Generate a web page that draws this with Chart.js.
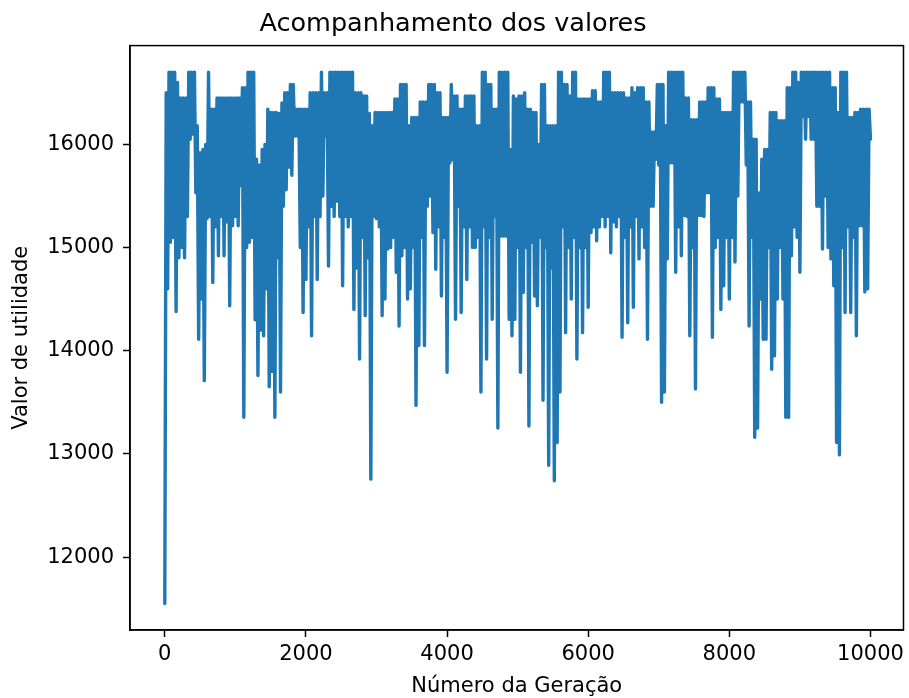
<!DOCTYPE html>
<html>
<head>
<meta charset="utf-8">
<script src="https://cdn.jsdelivr.net/npm/chart.js@4.4.1/dist/chart.umd.min.js"></script>
<style>
  html, body { margin: 0; padding: 0; background: #fff; }
  canvas { display: block; }
</style>
</head>
<body>
<canvas id="valoresChart" width="909" height="698"></canvas>
<script>
// one value every GEN_STEP generations (one row = 400 generations)
const GEN_STEP = 20;
const utilityValues = [
  11550, 16500, 14600, 16700, 15050, 16700, 15100, 16700, 14380, 16600, 14900, 16450, 15000, 16450, 14900, 16450, 15300, 16700, 16050, 16700,
  16100, 16700, 15530, 16180, 14110, 15920, 14500, 15950, 13710, 16000, 15280, 16700, 15300, 16340, 14660, 16340, 15200, 16450, 14920, 16450,
  15300, 16450, 14920, 16450, 15250, 16450, 14435, 16450, 15210, 16450, 15300, 16450, 15210, 16450, 15600, 16550, 13355, 16550, 15000, 16700,
  15050, 16700, 15100, 16700, 14300, 15855, 13760, 15800, 14200, 15950, 14145, 16000, 14600, 16340, 13650, 16310, 13800, 16310, 13355, 16310,
  14900, 16300, 13600, 16400, 15400, 16500, 15560, 16500, 15780, 16580, 15700, 16580, 16080, 16340, 16080, 16340, 15000, 16340, 14370, 16340,
  14690, 16340, 15200, 16500, 14145, 16500, 15300, 16500, 14690, 16500, 15300, 16700, 15500, 16500, 16080, 16500, 14820, 16700, 15400, 16700,
  15300, 16700, 15450, 16700, 15300, 16700, 14630, 16700, 15300, 16700, 15200, 16700, 15300, 16700, 14400, 16500, 14800, 16500, 13920, 16500,
  15100, 16470, 14340, 16470, 14900, 16300, 12755, 16180, 15300, 16310, 15280, 16310, 15200, 16310, 14340, 16310, 14500, 16310, 14985, 16310,
  15000, 16310, 15100, 16440, 14760, 16440, 14240, 16580, 14920, 16580, 15000, 16580, 14500, 16180, 14600, 16260, 15000, 16260, 13470, 16260,
  14050, 16410, 15100, 16410, 14050, 16410, 15400, 16580, 15500, 16580, 15145, 16580, 14790, 16500, 15200, 16500, 14530, 16260, 15100, 16260,
  13790, 16260, 15820, 16580, 15850, 16470, 14305, 16470, 15400, 16340, 14370, 16340, 15200, 16470, 14690, 16470, 15200, 16470, 15000, 16470,
  15000, 16180, 15100, 16180, 13600, 16700, 15200, 16700, 13920, 16580, 15100, 16580, 14305, 16340, 15300, 16340, 13250, 16700, 15110, 16700,
  15110, 16700, 15110, 16700, 14305, 15950, 14145, 16470, 14305, 16440, 15000, 16470, 13790, 16470, 14565, 16500, 15000, 16340, 13270, 16340,
  15050, 16310, 14530, 16310, 14435, 16000, 15100, 16580, 13520, 16580, 15000, 16180, 12890, 16180, 14800, 16180, 12740, 16180, 13110, 16700,
  13600, 16700, 15200, 16580, 14175, 16580, 15000, 16470, 14500, 16700, 15100, 16700, 13920, 16440, 15000, 16440, 14175, 16440, 15000, 16440,
  14420, 16440, 15145, 16520, 15200, 16520, 15065, 16410, 15200, 16410, 15300, 16700, 15200, 16700, 15300, 16700, 14950, 16500, 15250, 16500,
  15200, 16500, 15300, 16500, 14130, 16500, 15100, 16450, 14270, 16450, 15200, 16550, 14420, 16500, 15300, 16550, 14890, 16550, 15200, 16550,
  15000, 16410, 14110, 16410, 15400, 16120, 15400, 16120, 15855, 16580, 15800, 16580, 13500, 16580, 13600, 16180, 14890, 16700, 15820, 16700,
  15820, 16700, 14760, 16700, 15200, 16700, 14920, 16700, 15310, 16450, 15300, 16450, 14145, 16240, 15000, 16240, 13630, 16240, 15310, 16410,
  15310, 16410, 15300, 16410, 15530, 16550, 15530, 16550, 14130, 16550, 15000, 16440, 15100, 16440, 14400, 16310, 14630, 16310, 15100, 16310,
  14500, 16310, 15100, 16700, 14860, 16700, 15500, 16700, 16410, 16700, 16410, 16700, 15800, 16410, 14240, 16410, 15100, 16050, 13160, 16050,
  13250, 15530, 14500, 15855, 14110, 15950, 14110, 15950, 15000, 16310, 13820, 16310, 13950, 16310, 14500, 16230, 15000, 16230, 14500, 16230,
  13355, 16550, 13355, 16550, 14920, 16700, 15200, 16700, 15100, 16600, 14760, 16700, 16270, 16700, 16050, 16700, 16270, 16700, 16050, 16700,
  16050, 16700, 15400, 16700, 15400, 16700, 14985, 16700, 15500, 16700, 15000, 16700, 14890, 16550, 14630, 16550, 13110, 16310, 12990, 16700,
  15000, 16700, 14370, 16700, 15200, 16260, 14370, 16260, 15100, 16310, 14145, 16310, 15210, 16340, 15210, 16340, 14570, 16340, 14600, 16340,
  16050
];
const generations = utilityValues.map((_, i) => i * GEN_STEP);

const xTicks = [0, 2000, 4000, 6000, 8000, 10000];
const yTicks = [12000, 13000, 14000, 15000, 16000];

const FONT = "'DejaVu Sans', sans-serif";

// top + right spines like matplotlib
const frameBox = {
  id: 'frameBox',
  afterDraw(chart) {
    const { ctx, chartArea: a } = chart;
    ctx.save();
    ctx.strokeStyle = '#000';
    ctx.lineWidth = 1.5;
    ctx.strokeRect(a.left, a.top, a.right - a.left, a.bottom - a.top);
    ctx.restore();
  },
};

new Chart(document.getElementById('valoresChart'), {
  type: 'line',
  data: {
    datasets: [{
      data: generations.map((g, i) => ({ x: g, y: utilityValues[i] })),
      borderColor: '#1f77b4',
      borderWidth: 3.4,
      borderJoinStyle: 'round',
      borderCapStyle: 'round',
      pointRadius: 0,
      tension: 0,
      fill: false,
    }],
  },
  options: {
    responsive: false,
    animation: false,
    devicePixelRatio: 1,
    layout: { padding: { left: 0, right: 3, top: 0, bottom: 0 } },
    plugins: {
      legend: { display: false },
      tooltip: { enabled: false },
      title: {
        display: true,
        text: 'Acompanhamento dos valores',
        color: '#000',
        font: { family: FONT, size: 25.5, weight: 'normal' },
        padding: { top: 9, bottom: 6 },
      },
    },
    scales: {
      x: {
        type: 'linear',
        min: -493,
        max: 10468,
        afterBuildTicks: (s) => { s.ticks = xTicks.map((v) => ({ value: v })); },
        afterFit: (s) => { s.height = 68; },
        ticks: {
          color: '#000',
          font: { family: FONT, size: 21 },
          padding: 5,
          maxRotation: 0,
          autoSkip: false,
          callback: (v) => String(v),
        },
        grid: { drawOnChartArea: false, drawTicks: true, tickLength: 7, tickColor: '#000', tickWidth: 1.5 },
        border: { display: true, color: '#000', width: 1.5 },
        title: {
          display: true,
          text: 'Número da Geração',
          color: '#000',
          font: { family: FONT, size: 21 },
          padding: { top: 0, bottom: -1 },
        },
      },
      y: {
        type: 'linear',
        min: 11293,
        max: 16957,
        afterBuildTicks: (s) => { s.ticks = yTicks.map((v) => ({ value: v })); },
        afterFit: (s) => { s.width = 130; },
        ticks: {
          color: '#000',
          font: { family: FONT, size: 21 },
          padding: 9,
          autoSkip: false,
          callback: (v) => String(v),
        },
        grid: { drawOnChartArea: false, drawTicks: true, tickLength: 7, tickColor: '#000', tickWidth: 1.5 },
        border: { display: true, color: '#000', width: 1.5 },
        title: {
          display: true,
          text: 'Valor de utilidade',
          color: '#000',
          font: { family: FONT, size: 21 },
          padding: { top: 9, bottom: 9 },
        },
      },
    },
  },
  plugins: [frameBox],
});
</script>
</body>
</html>
